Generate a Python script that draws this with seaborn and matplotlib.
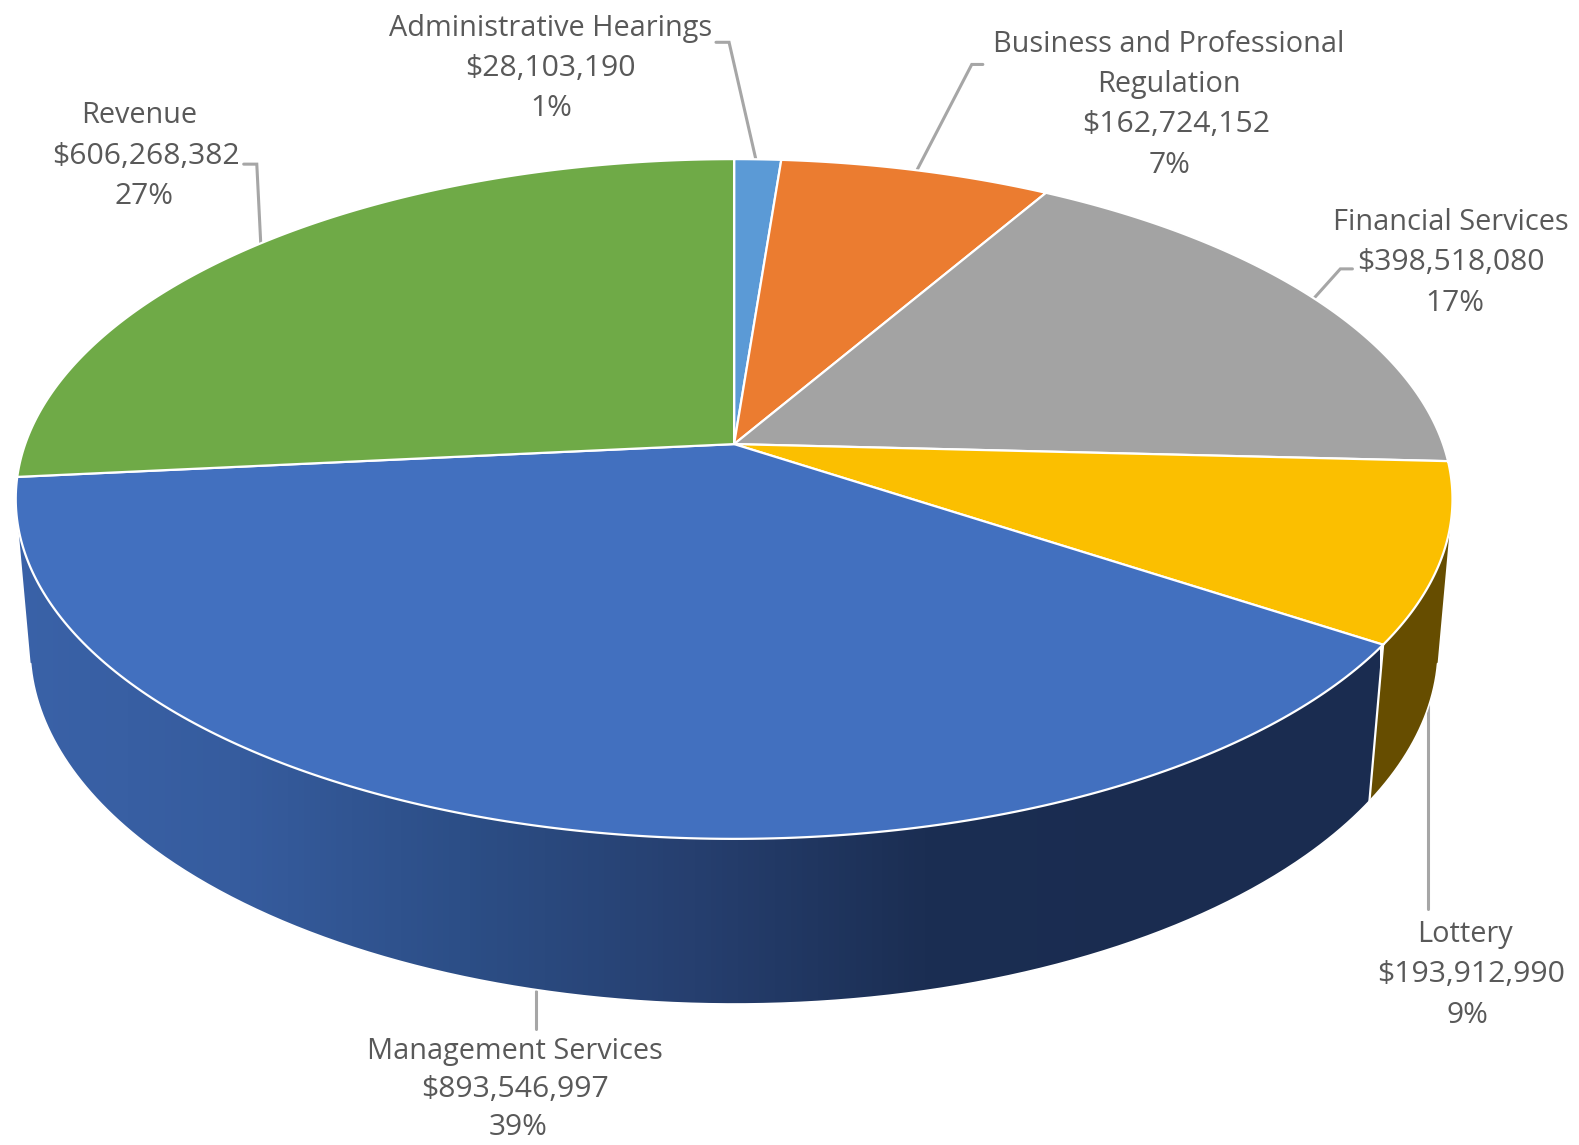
import numpy as np
import seaborn as sns
import matplotlib.pyplot as plt
from matplotlib.patches import Polygon

# Chart data
categories = ["Administrative Hearings", "Business and Professional\nRegulation",
              "Financial Services", "Lottery", "Management Services", "Revenue"]
values = [28103190, 162724152, 398518080, 193912990, 893546997, 606268382]
percents = [1, 7, 17, 9, 39, 27]
colors = ["#5B9AD6", "#EB7C30", "#A3A3A3", "#FBBF00", "#4270BF", "#6FAA47"]

# Label centres and leader lines, in pixels of the 1568 wide view
name_x = [547, 1161, 1441, 1455, 511, 138]
value_x = [547, 1168, 1441, 1461, 511, 145]
pct_x = [547, 1161, 1445, 1457, 515, 143]
label_y = [28, 44, 221, 928, 1044, 115]
line_gap = [40, 40, 40, 40, 38, 40]
leaders = [
    [(711, 42), (724, 42), (751, 160)],
    [(976, 64), (965, 64), (910, 170)],
    [(1343, 267), (1331, 267), (1305, 296)],
    [(1418, 700), (1418, 903)],
    [(532, 984), (532, 1022)],
    [(242, 163), (255, 163), (259, 243)],
]

# Tilted pie camera
CX, CY = 729, 441
A, B, K = 704, 328.7, 0.1615
M, E = 0.0196, 148.4


def project(theta, z=0.0):
    u, v = np.sin(theta), np.cos(theta)
    w = 1 + K * v + M * z
    return CX + A * u / w, CY + (-B * v + E * z) / w


def wall_polygon(top_from, top_to, bottom_from, bottom_to):
    xt, yt = project(np.linspace(top_from, top_to, 300))
    xb, yb = project(np.linspace(bottom_to, bottom_from, 300), 1)
    return np.column_stack([np.r_[xt, xb], np.r_[yt, yb]])


sns.set_theme(style="white")
plt.rcParams["font.family"] = ["Open Sans", "DejaVu Sans"]

fig = plt.figure(figsize=(15.79, 11.45), dpi=100)
ax = fig.add_axes([0, 0, 1, 1])

edges = np.radians(np.concatenate([[0], np.cumsum(values)]) / np.sum(values) * 360)

# Silhouette: from the widest points of the top rim, tangent to the bottom rim
top_right = np.arccos(-K)
top_left = 2 * np.pi - top_right
grid = np.linspace(np.pi / 2, 3 * np.pi / 2, 3000)
xb, yb = project(grid, 1)
xp, yp = project(top_right)
lean = np.where(yb > yp + 5, (xb - xp) / (yb - yp), -np.inf)
bottom_right = grid[np.argmax(lean)]
xp, yp = project(top_left)
lean = np.where(yb > yp + 5, (xb - xp) / (yb - yp), np.inf)
bottom_left = grid[np.argmin(lean)]

# Leader lines
for pts in leaders:
    xs, ys = zip(*pts)
    ax.plot(xs, ys, color="#A6A6A6", lw=2.2, solid_joinstyle="miter", zorder=1)

# Side wall, lottery part
ax.add_patch(Polygon(wall_polygon(top_right, edges[4], bottom_right, edges[4]),
                     closed=True, facecolor="#664D00", lw=0, zorder=2))

# Side wall, management part with shading across x
wall = sns.blend_palette(["#3A62A8", "#365C9E", "#2C4E86", "#263F6F", "#1B2E53", "#1A2C50", "#1A2C50"], 256)
clip = Polygon(wall_polygon(edges[4], top_left, edges[4], bottom_left), closed=True, transform=ax.transData)
img = ax.imshow(np.array(wall)[np.newaxis, :, :], extent=(10, 1370, 1000, 300), aspect="auto", zorder=2)
img.set_clip_path(clip)

# Bottom rim and wedge seam on the wall
xb, yb = project(np.linspace(bottom_right, bottom_left, 500), 1)
ax.plot(xb, yb, color="white", lw=1.2, zorder=3)
ax.plot(*zip(project(edges[4]), project(edges[4], 1)), color="white", lw=1.6, zorder=3)

# Top face wedges
for i, c in enumerate(colors):
    t = np.linspace(edges[i], edges[i + 1], 200)
    x, y = project(t)
    ax.fill(np.r_[CX, x], np.r_[CY, y], facecolor=c, edgecolor="white", lw=1.6,
            joinstyle="miter", zorder=4)

# Labels
for i, name in enumerate(categories):
    lines = [(line, name_x[i], 20.8) for line in name.split("\n")]
    lines.append((f"${values[i]:,}", value_x[i], 21.7))
    lines.append((f"{percents[i]}%", pct_x[i], 21.5))
    for j, (line, lx, size) in enumerate(lines):
        ax.text(lx, label_y[i] + j * line_gap[i], line, ha="center", va="center",
                fontsize=size, color="#595959", zorder=5)

ax.set_xlim(0, 1568)
ax.set_ylim(1137, 0)
ax.axis("off")

fig.savefig("out.png", dpi=100)
